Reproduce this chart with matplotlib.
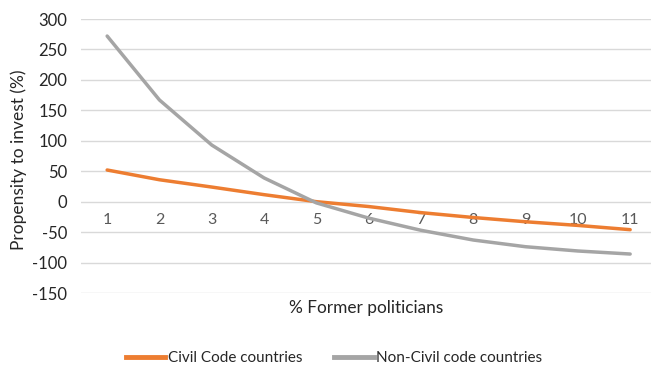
import matplotlib
matplotlib.use("Agg")
import matplotlib.pyplot as plt
from matplotlib.lines import Line2D

plt.rcParams['font.family'] = ['Lato', 'DejaVu Sans']
plt.rcParams['axes.unicode_minus'] = False

categories = [1, 2, 3, 4, 5, 6, 7, 8, 9, 10, 11]
civil_code = [52, 36, 24, 11.5, 0, -8, -18, -26, -33, -39, -46]
non_civil_code = [272, 167, 93, 39, -2, -27, -47, -63, -74, -81, -86]
y_ticks = [300, 250, 200, 150, 100, 50, 0, -50, -100, -150]

ORANGE = "#ED7D31"
GREY = "#A5A5A5"
TEXT = "#595959"
DARK = "#262626"

fig = plt.figure(figsize=(6.51, 3.67), dpi=100)
ax = fig.add_axes([81 / 651, 74 / 367, 570 / 651, 274 / 367])

ax.plot(categories, civil_code, color=ORANGE, lw=2.5, solid_capstyle="round", zorder=3)
ax.plot(categories, non_civil_code, color=GREY, lw=2.5, solid_capstyle="round", zorder=3)

ax.set_xlim(0.5, 0.5 + 570 / 52.3)
ax.set_ylim(-150, 300)
ax.set_yticks(y_ticks)
ax.set_xticks(categories)
ax.grid(axis="y", color="#D9D9D9", lw=1)
ax.set_axisbelow(True)
for s in ax.spines.values():
    s.set_visible(False)
ax.spines["bottom"].set_position(("data", 0))
ax.tick_params(axis="x", length=0, pad=8, labelsize=11.5, labelcolor=TEXT)
ax.tick_params(axis="y", length=0, pad=10, labelsize=12, labelcolor=DARK)

ax.set_ylabel("Propensity to invest (%)", fontsize=12.5, color=DARK)
ax.yaxis.set_label_coords(-54 / 570, 0.485)
fig.text(366 / 651, 1 - 308 / 367, "% Former politicians", ha="center", va="center",
         fontsize=12.4, color=DARK)

handles = [Line2D([], [], color=ORANGE, lw=3.5),
           Line2D([], [], color=GREY, lw=3.5)]
fig.legend(handles, ["Civil Code countries", "Non-Civil code countries"],
           loc="center", bbox_to_anchor=(334 / 651, 1 - 358 / 367), ncol=2,
           frameon=False, fontsize=11, handlelength=2.6, handletextpad=0.15,
           columnspacing=2.1, labelcolor=DARK)

fig.savefig("out.png", dpi=100)
